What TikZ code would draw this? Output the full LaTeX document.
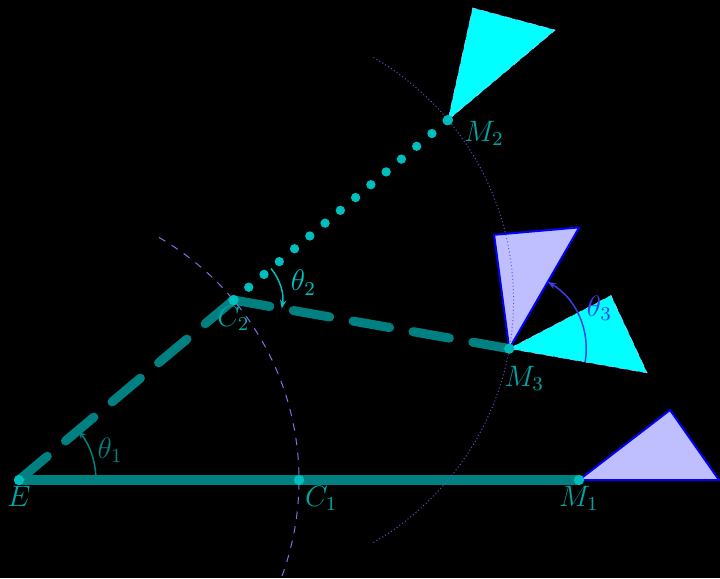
\documentclass[tikz,border=0pt]{standalone}
\usetikzlibrary{arrows.meta,positioning,calc}
\definecolor{circA}{RGB}{125,115,235}
\definecolor{circB}{RGB}{95,85,215}
\definecolor{angC}{RGB}{60,60,235}
\definecolor{aqua}{RGB}{0,255,255}
\definecolor{dotC}{RGB}{0,190,190}
\definecolor{lblC}{RGB}{0,165,165}

\begin{document}
\begin{tikzpicture}[
    link/.style={draw=teal, line width=3.7pt, line cap=round},
    dashlink/.style={link, dash pattern=on 15pt off 9.7pt},
    dotlink/.style={link, draw=dotC, line width=3.8pt, dash pattern=on 0pt off 8.1pt},
    frameA/.style={draw=blue, fill=blue!25, line width=0.8pt, line join=round},
    frameB/.style={draw=blue!25, fill=aqua, very thin, densely dashed},
    lbl/.style={text=lblC, font=\large},
    ang/.style={-{Stealth[length=3.5pt]}, line width=0.6pt},
    joint/.style={fill=dotC}
]
% background and frame
\fill[black] (-0.2714,-1.4) rectangle (10.0143,6.8571);
\clip (-0.2714,-1.4) rectangle (10.0143,6.8571);

% joints and end points
\coordinate (E) at (0,0);
\coordinate (C1) at (0:4);
\coordinate (M1) at (0:8);
\coordinate (C2) at (40:4);
\coordinate (M2) at ($(C2)+(40:4)$);
\coordinate (M3) at ($(C2)+(-10:4)$);

% end effector frames
\filldraw[frameA, shift={(M1)}] (0,0) -- (2,0) -- (1.3,1) -- cycle;
\filldraw[frameB, shift={(M2)}, rotate=40] (0,0) -- (2,0) -- (1.3,1) -- cycle;
\filldraw[frameB, shift={(M3)}, rotate=-10] (0,0) -- (2,0) -- (1.3,1) -- cycle;
\filldraw[frameA, shift={(M3)}, rotate=60] (0,0) -- (2,0) -- (1.3,1) -- cycle;

% links
\draw[link] (E) -- (M1);
\draw[dashlink] (E) -- (C2);
\draw[dashlink] (C2) -- (M3);
\draw[dotlink] (C2) -- (M2);

% reachable circles
\draw[circA, thin, dashed] ($(E)+(60:4)$) arc[start angle=60, end angle=-40, radius=4];
\draw[circB, thin, densely dotted] ($(C2)+(60:4)$) arc[start angle=60, end angle=-60, radius=4];

\foreach \p in {E,C1,M1,C2,M2,M3}
    \fill[joint] (\p) circle (2.1pt);

% angles
\draw[ang, teal] ($(E)+(0:1.1)$) arc[start angle=0, end angle=40, radius=1.1];
\node[text=teal, font=\large] (t1) at ($(E)+(18:1.37)$) {$\theta_1$};
\draw[ang, dotC] ($(C2)+(40:0.7)$) arc[start angle=40, end angle=-10, radius=0.7];
\node[text=dotC, font=\large] (t2) at ($(C2)+(14:1.03)$) {$\theta_2$};
\draw[ang, angC] ($(M3)+(-10:1.1)$) arc[start angle=-10, end angle=60, radius=1.1];
\node[text=angC, font=\large] (t3) at ($(M3)+(24:1.41)$) {$\theta_3$};

% labels
\node[lbl, below=-1pt of E] (lE) {$E$};
\node[lbl, below right=-1pt and -1pt of C1] (lC1) {$C_1$};
\node[lbl, below=-1pt of M1] (lM1) {$M_1$};
\node[lbl, below=-1pt of C2] (lC2) {$C_2$};
\node[lbl, below right=3.5pt and -5.5pt of M3] (lM3) {$M_3$};
\node[lbl, below right=-3pt and 3pt of M2] (lM2) {$M_2$};
\end{tikzpicture}
\end{document}
